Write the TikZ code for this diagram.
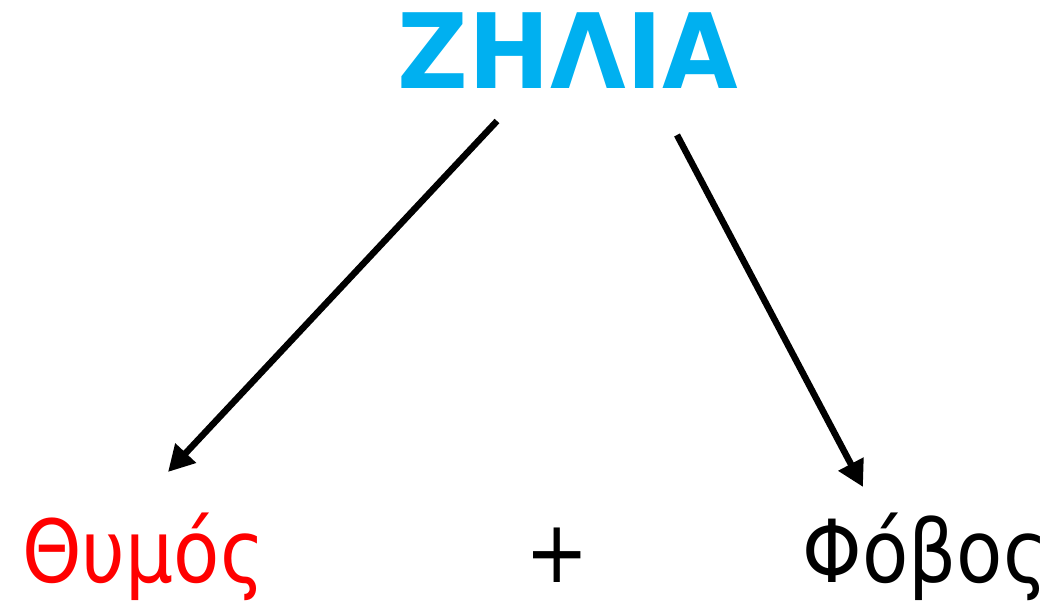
\documentclass[tikz,border=0pt]{standalone}
\usepackage{fontspec}
\setmainfont{DejaVu Sans}
\usetikzlibrary{arrows.meta}
\definecolor{titlecyan}{RGB}{0,176,240}
\definecolor{wordred}{RGB}{255,0,0}
\tikzset{
  titletext/.style={font=\fontsize{104}{110}\selectfont\bfseries, text=titlecyan, inner sep=0pt, anchor=base, xscale=0.94},
  wordtext/.style={font=\fontsize{87}{95}\selectfont, inner sep=0pt, anchor=base, xscale=0.87},
  arrowline/.style={line width=6.5pt, -{Triangle[length=26pt,width=27pt]}}
}
\begin{document}
\begin{tikzpicture}[x=1pt,y=-1pt]
\useasboundingbox (0,0) rectangle (1058,603);
\node[titletext] (title) at (568,88) {ΖΗΛΙΑ};
\node[wordtext, text=wordred] (thymos) at (143.5,582) {Θυμός};
\node[wordtext] (plus) at (557,582) {+};
\node[wordtext] (fovos) at (925,582) {Φόβος};
\coordinate (ls) at (497,121);
\coordinate (le) at (168,472);
\coordinate (rs) at (677,135);
\coordinate (re) at (863,487);
\draw[arrowline] (ls) -- (le);
\draw[arrowline] (rs) -- (re);
\end{tikzpicture}
\end{document}
